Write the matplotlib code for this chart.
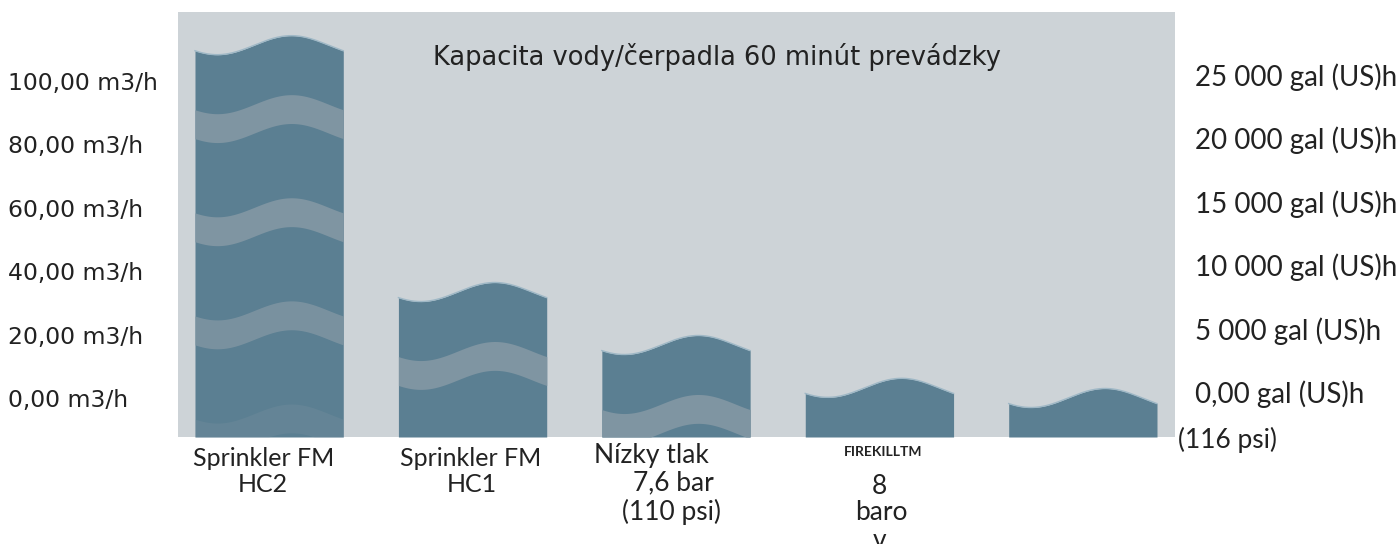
import numpy as np
import matplotlib.pyplot as plt

# data
category_lines = [
    ["Sprinkler FM", "HC2"],
    ["Sprinkler FM", "HC1"],
    ["Nízky tlak", "7,6 bar", "(110 psi)"],
    ["FIREKILLTM", "8", "baro", "v"],
    [],
]
flow_m3h = [111.2, 33.4, 16.7, 3.2, 0.0]
left_ticks = [0, 20, 40, 60, 80, 100]
left_labels = ["0,00 m3/h", "20,00 m3/h", "40,00 m3/h", "60,00 m3/h",
               "80,00 m3/h", "100,00 m3/h"]
right_labels = ["0,00 gal (US)h", "5 000 gal (US)h", "10 000 gal (US)h",
                "15 000 gal (US)h", "20 000 gal (US)h", "25 000 gal (US)h"]
title = "Kapacita vody/čerpadla 60 minút prevádzky"
extra_note = "(116 psi)"

panel_color = "#cdd3d7"
bar_color = "#5b7f92"
band_color = "#7f95a2"
text_color = "#222222"

fig = plt.figure(figsize=(14, 5.44), dpi=100)
ax = fig.add_axes([178 / 1400, 107 / 544, 997 / 1400, 425 / 544])
ax.set_facecolor(panel_color)
ybot, ytop = -12.3, 121.65
ax.set_ylim(ybot, ytop)
ax.set_xlim(-0.448, 4.453)

hw = 0.3645          # half bar width
amp = 3.0            # wave amplitude
band_off, band_per, band_thick = 18.6, 32.5, 9.1
band_alpha = [1.0, 1.0, 0.85, 0.25]

for i, v in enumerate(flow_m3h):
    x = np.linspace(i - hw, i + hw, 300)
    f = (x - x[0]) / (x[-1] - x[0])
    wave = amp * np.cos(2 * np.pi * (f - 0.65))
    top = v + wave
    ax.fill_between(x, ybot, top, color=bar_color, lw=0, zorder=2)
    ax.plot(x, top, color="#9fb8c6", lw=1.0, zorder=3)
    for k, a in enumerate(band_alpha):
        up = v - band_off - k * band_per + wave
        lo = up - band_thick
        if up.max() <= ybot:
            continue
        ax.fill_between(x, np.maximum(lo, ybot), np.maximum(up, ybot),
                        color=band_color, alpha=a, lw=0, zorder=2.5)

for s in ax.spines.values():
    s.set_visible(False)
ax.set_xticks([])
ax.set_yticks(left_ticks, left_labels)
ax.tick_params(axis="y", length=0, pad=122.4, labelsize=16.9, labelcolor=text_color)
for lbl in ax.get_yticklabels():
    lbl.set_horizontalalignment("left")

# right side labels sit a few pixels higher than the left ones
ax2 = ax.twinx()
ax2.set_ylim(ybot - 1.9, ytop - 1.9)
ax2.set_yticks(left_ticks, right_labels)
ax2.tick_params(axis="y", length=0, pad=14.4, labelsize=20,
                labelcolor=text_color, labelfontfamily="Lato")
for s in ax2.spines.values():
    s.set_visible(False)

ax.text(0.541, 0.894, title, transform=ax.transAxes, ha="center", va="center",
        fontsize=18.5, color=text_color)

# category labels under the bars: (dx px, y px from top, size, bold)
line_layout = [
    [(-6, 458, 18, False), (-6, 485, 18, False)],
    [(-2, 458, 18, False), (-1, 485, 18, False)],
    [(-25, 455, 19, False), (-3, 483, 19, False), (-4, 512, 19, False)],
    [(4, 452, 10, True), (0, 486, 19, False), (2, 513, 19, False), (0, 540, 19, False)],
    [],
]
for i, lines in enumerate(category_lines):
    for text, (dx, ypx, size, bold) in zip(lines, line_layout[i]):
        ax.annotate(text, xy=(i, 0), xycoords=("data", "axes fraction"),
                    xytext=(dx, -(ypx - 437)), textcoords="offset pixels",
                    ha="center", va="center", family="Lato", fontsize=size,
                    fontweight="bold" if bold else "normal",
                    color=text_color, annotation_clip=False)

ax.annotate(extra_note, xy=(1, 0), xycoords="axes fraction",
            xytext=(3, -3), textcoords="offset pixels", ha="left", va="center",
            family="Lato", fontsize=19, color=text_color, annotation_clip=False)

fig.savefig("out.png", dpi=100, facecolor="white")
